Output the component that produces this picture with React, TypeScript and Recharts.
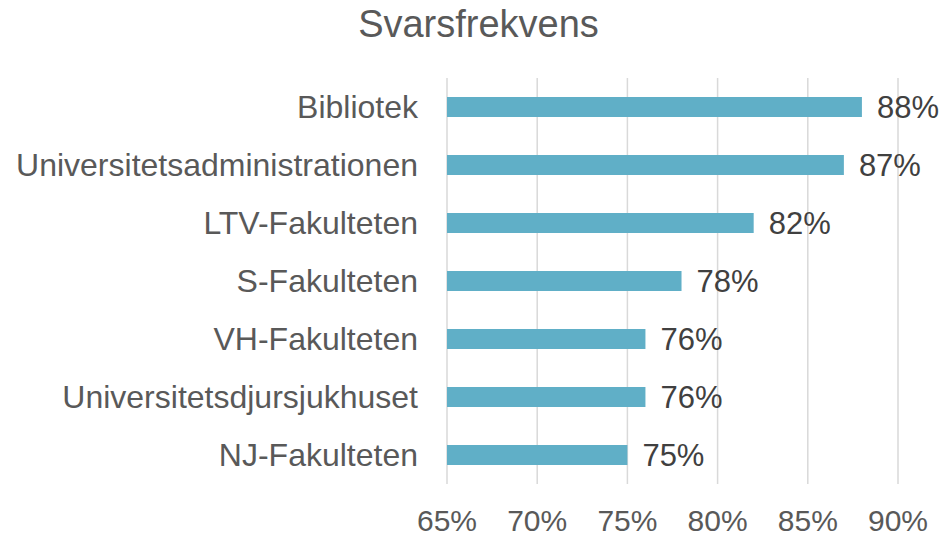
import { BarChart, Bar, XAxis, YAxis, CartesianGrid, LabelList } from 'recharts'

const categories = [
  'Bibliotek',
  'Universitetsadministrationen',
  'LTV-Fakulteten',
  'S-Fakulteten',
  'VH-Fakulteten',
  'Universitetsdjursjukhuset',
  'NJ-Fakulteten',
]
const responseRates = [88, 87, 82, 78, 76, 76, 75]
const xTicks = [65, 70, 75, 80, 85, 90]

const data = categories.map((name, i) => ({ name, rate: responseRates[i] }))

const FONT = '"Liberation Sans", Arial, sans-serif'

export default function App() {
  return (
    <div style={{ position: 'absolute', left: 0, top: 0, width: 946, height: 538, background: '#fff', fontFamily: FONT }}>
      <div
        style={{
          position: 'absolute', left: 0, top: 5, width: 957, textAlign: 'center',
          fontSize: 38, lineHeight: '38px', color: '#595959',
        }}
      >
        Svarsfrekvens
      </div>
      <BarChart
        width={946} height={538} data={data} layout="vertical"
        margin={{ top: 78, right: 48, left: 0, bottom: 0 }}
        barSize={20}
      >
        <CartesianGrid horizontal={false} stroke="#d9d9d9" strokeWidth={1.5} />
        <XAxis
          type="number" domain={[65, 90]} ticks={xTicks} interval={0} height={54}
          tickFormatter={(v: number) => `${v}%`}
          axisLine={false} tickLine={false} tickSize={0} tickMargin={26}
          tick={{ fill: '#595959', fontSize: 30, fontFamily: FONT }}
        />
        <YAxis
          type="category" dataKey="name" width={447}
          axisLine={false} tickLine={false} tickSize={0} tickMargin={29} interval={0}
          tick={{ fill: '#595959', fontSize: 32, fontFamily: FONT }}
        />
        <Bar dataKey="rate" fill="#60afc7" isAnimationActive={false}>
          <LabelList
            dataKey="rate" position="right" offset={15}
            formatter={(v: number) => `${v}%`}
            style={{ fill: '#404040', fontSize: 31, fontFamily: FONT }}
          />
        </Bar>
      </BarChart>
    </div>
  )
}
